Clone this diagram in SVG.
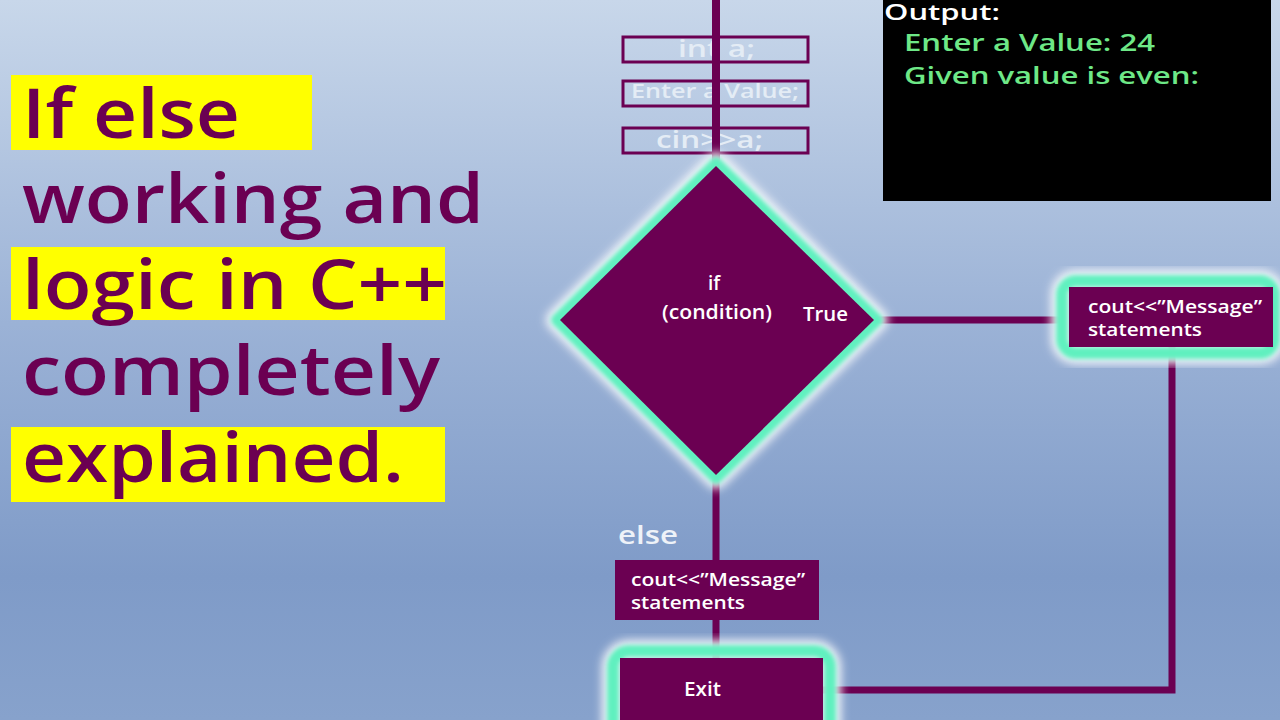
<svg xmlns="http://www.w3.org/2000/svg" width="1280" height="720" viewBox="0 0 1280 720">
<defs>
<linearGradient id="bg" x1="0" y1="0" x2="0" y2="1">
<stop offset="0" stop-color="#c8d7ea"/>
<stop offset="0.45" stop-color="#9bb2d6"/>
<stop offset="0.8" stop-color="#7f9bc8"/>
<stop offset="1" stop-color="#87a2cc"/>
</linearGradient>
<filter id="halo" x="-20%" y="-20%" width="140%" height="140%">
<feGaussianBlur stdDeviation="5"/>
</filter>
<filter id="soft" x="-20%" y="-20%" width="140%" height="140%">
<feGaussianBlur stdDeviation="2"/>
</filter>
<style>
.title{font-family:"Open Sans","Noto Sans",sans-serif;font-size:68px;fill:#6b0052;font-weight:600}
.hl{fill:#ffff00}
.purple{fill:#6b0052}
.conn{stroke:#6b0052;fill:none}
.ob{fill:none;stroke:#6b0052;stroke-width:3}
.otxt{font-family:"Open Sans","Noto Sans",sans-serif;fill:#e4ecf5;font-weight:600}
.wt{font-family:"Open Sans","Noto Sans",sans-serif;fill:#ffffff;font-weight:600}
.grn{font-family:"Open Sans","Noto Sans",sans-serif;fill:#6ee887;font-size:24px;font-weight:600}
.glowW{fill:none;stroke:#ffffff;stroke-width:22;filter:url(#halo);opacity:0.9}
.glowG{fill:none;stroke:#60f0bf;stroke-width:12;filter:url(#soft)}
</style>
</defs>
<rect width="1280" height="720" fill="url(#bg)"/>

<g id="title">
<rect class="hl" x="11" y="75" width="301" height="75"/>
<rect class="hl" x="11" y="247" width="434" height="73"/>
<rect class="hl" x="11" y="427" width="434" height="75"/>
<text class="title" x="22" y="138" textLength="218" lengthAdjust="spacingAndGlyphs">If else</text>
<text class="title" x="22" y="223" textLength="462" lengthAdjust="spacingAndGlyphs">working and</text>
<text class="title" x="22" y="309" textLength="425" lengthAdjust="spacingAndGlyphs">logic in C++</text>
<text class="title" x="22" y="395" textLength="418" lengthAdjust="spacingAndGlyphs">completely</text>
<text class="title" x="22" y="482" textLength="382" lengthAdjust="spacingAndGlyphs">explained.</text>
</g>

<g id="output">
<rect x="883" y="0" width="388" height="201" fill="#000000"/>
<text class="wt" x="884" y="20" font-size="21" font-weight="500" textLength="116" lengthAdjust="spacingAndGlyphs">Output:</text>
<text class="grn" x="904" y="51" textLength="251" lengthAdjust="spacingAndGlyphs">Enter a Value: 24</text>
<text class="grn" x="904" y="84" textLength="295" lengthAdjust="spacingAndGlyphs">Given value is even:</text>
</g>

<g id="stmts">
<g id="n-int">
<rect class="ob" x="623" y="37" width="185" height="25"/>
<text class="otxt" x="678" y="57" font-size="23" textLength="77" lengthAdjust="spacingAndGlyphs">int a;</text>
</g>
<g id="n-enter">
<rect class="ob" x="623" y="81" width="185" height="25"/>
<text class="otxt" x="631" y="98" font-size="19" textLength="168" lengthAdjust="spacingAndGlyphs">Enter a Value;</text>
</g>
<g id="n-cin">
<rect class="ob" x="623" y="128" width="185" height="25"/>
<text class="otxt" x="656" y="148" font-size="23" textLength="107" lengthAdjust="spacingAndGlyphs">cin&gt;&gt;a;</text>
</g>
</g>

<g id="connectors">
<line class="conn" x1="716" y1="0" x2="716" y2="165" stroke-width="8"/>
<line class="conn" x1="716" y1="478" x2="716" y2="660" stroke-width="7"/>
<line class="conn" x1="877" y1="320" x2="1060" y2="320" stroke-width="7"/>
<polyline class="conn" points="1172,347 1172,690 823,690" stroke-width="7"/>
</g>

<g id="n-if">
<polygon class="glowW" points="716,163 877,320 716,478 557,320" stroke-linejoin="round"/>
<polygon class="glowG" points="716,163 877,320 716,478 557,320" stroke-linejoin="round"/>
<polygon class="purple" points="716,166 874,320 716,475 560,320"/>
<text class="wt" x="714" y="290" font-size="19" font-weight="500" text-anchor="middle">if</text>
<text class="wt" x="662" y="319" font-size="19" font-weight="500" textLength="110" lengthAdjust="spacingAndGlyphs">(condition)</text>
<text class="wt" x="803" y="321" font-size="19" textLength="45" lengthAdjust="spacingAndGlyphs">True</text>
</g>

<g id="n-true">
<rect class="glowW" x="1062" y="281" width="212" height="72" rx="14"/>
<rect class="glowG" x="1062" y="281" width="212" height="72" rx="14"/>
<rect class="purple" x="1069" y="287" width="204" height="60"/>
<text class="wt" x="1088" y="313" font-size="18" textLength="174" lengthAdjust="spacingAndGlyphs">cout&lt;&lt;”Message”</text>
<text class="wt" x="1088" y="336" font-size="18" textLength="114" lengthAdjust="spacingAndGlyphs">statements</text>
</g>

<g id="n-else">
<text class="wt" x="618" y="544" font-size="25" style="fill:#eef2f8" textLength="60" lengthAdjust="spacingAndGlyphs">else</text>
<rect class="purple" x="615" y="560" width="204" height="60"/>
<text class="wt" x="631" y="586" font-size="18" textLength="174" lengthAdjust="spacingAndGlyphs">cout&lt;&lt;”Message”</text>
<text class="wt" x="631" y="609" font-size="18" textLength="114" lengthAdjust="spacingAndGlyphs">statements</text>
</g>

<g id="n-exit">
<rect class="glowW" x="613" y="651" width="217" height="90" rx="16"/>
<rect class="glowG" x="613" y="651" width="217" height="90" rx="16"/>
<rect class="purple" x="620" y="658" width="203" height="70"/>
<text class="wt" x="684" y="696" font-size="19" textLength="37" lengthAdjust="spacingAndGlyphs">Exit</text>
</g>
</svg>
